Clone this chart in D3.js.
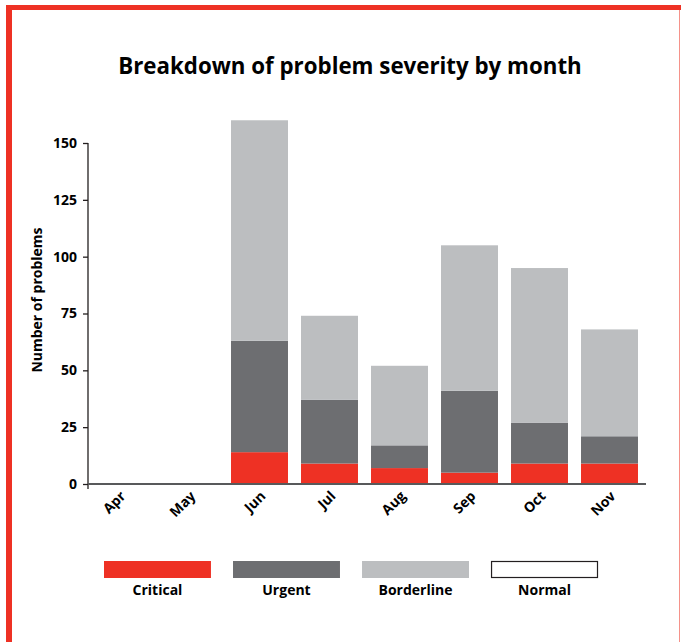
<!DOCTYPE html>
<html>
<head>
<meta charset="utf-8">
<script src="https://cdn.jsdelivr.net/npm/d3@7"></script>
<style>
  html, body { margin: 0; padding: 0; background: #fff; }
  svg { display: block; font-family: "Open Sans", "Lato", sans-serif; }
</style>
</head>
<body>
<svg id="chart" width="681" height="642"></svg>
<script>
// Months shown on the x axis
const months = ["Apr", "May", "Jun", "Jul", "Aug", "Sep", "Oct", "Nov"];
// Number of problems per severity level, per month
const critical   = [0, 0, 14, 9, 7, 5, 9, 9];
const urgent     = [0, 0, 49, 28, 10, 36, 18, 12];
const borderline = [0, 0, 97, 37, 35, 64, 68, 47];
const normal     = [0, 0, 0, 0, 0, 0, 0, 0];
// Severity levels, bottom to top of each stack
const severities = ["Critical", "Urgent", "Borderline", "Normal"];
const severityColors = ["#ee3124", "#6d6e71", "#bcbec0", "#ffffff"];
// Y axis tick values
const yTicks = [0, 25, 50, 75, 100, 125, 150];

const rows = months.map((m, i) => ({
  month: m,
  Critical: critical[i],
  Urgent: urgent[i],
  Borderline: borderline[i],
  Normal: normal[i]
}));

const svg = d3.select("#chart");

// Red frame around the figure
svg.append("rect").attr("x", 6).attr("y", 5).attr("width", 675).attr("height", 5).attr("fill", "#ee3124");
svg.append("rect").attr("x", 6).attr("y", 5).attr("width", 6).attr("height", 637).attr("fill", "#ee3124");
svg.append("rect").attr("x", 679).attr("y", 10).attr("width", 1).attr("height", 632).attr("fill", "#f5928a");

// Title
svg.append("text")
  .attr("x", 350).attr("y", 74)
  .attr("text-anchor", "middle")
  .attr("font-size", 22.3).attr("font-weight", 700)
  .attr("fill", "#000")
  .text("Breakdown of problem severity by month");

const x = d3.scaleBand().domain(months).range([84.5, 644.5]).paddingInner(0.186).paddingOuter(0.093);
const y = d3.scaleLinear().domain([0, 150]).range([484, 143]);

const stack = d3.stack().keys(severities);
const series = stack(rows);
const color = d3.scaleOrdinal().domain(severities).range(severityColors);

// Stacked bars
svg.append("g").selectAll("g")
  .data(series)
  .join("g")
  .attr("fill", d => color(d.key))
  .selectAll("rect")
  .data(d => d.filter(s => s[1] - s[0] > 0))
  .join("rect")
  .attr("x", d => x(d.data.month))
  .attr("width", x.bandwidth())
  .attr("y", d => y(d[1]))
  .attr("height", d => y(d[0]) - y(d[1]));

// Y axis
const yAxis = svg.append("g")
  .attr("transform", "translate(88,0)")
  .call(d3.axisLeft(y).tickValues(yTicks).tickSize(5).tickPadding(6));
yAxis.select(".domain").attr("stroke", "#231f20").attr("stroke-width", 1.3)
  .attr("d", `M0,${y(150)}V${y(0) + 5}`);
yAxis.selectAll(".tick line").attr("stroke", "#231f20").attr("stroke-width", 1.3);
yAxis.selectAll(".tick text")
  .attr("font-size", 14).attr("font-weight", 700).attr("fill", "#000")
  .attr("font-family", "\"Open Sans\", sans-serif");

// X axis
const xAxis = svg.append("g")
  .attr("transform", `translate(0,${y(0)})`)
  .call(d3.axisBottom(x).tickSize(0).tickPadding(0));
xAxis.select(".domain").attr("stroke", "#58595b").attr("stroke-width", 2)
  .attr("d", "M88,0H646");
xAxis.selectAll(".tick text")
  .attr("font-size", 14).attr("font-weight", 700).attr("fill", "#000")
  .attr("font-family", "\"Open Sans\", sans-serif")
  .attr("text-anchor", "end")
  .attr("dy", 0)
  .attr("transform", "translate(7,13) rotate(-45)");

// Y axis title
svg.append("text")
  .attr("transform", "translate(42,300) rotate(-90)")
  .attr("text-anchor", "middle")
  .attr("font-size", 14).attr("font-weight", 700).attr("fill", "#000")
  .text("Number of problems");

// Legend
const legendX = d3.scaleBand().domain(severities).range([104, 598]).paddingInner(0.171).paddingOuter(0);
const legend = svg.append("g").selectAll("g")
  .data(severities)
  .join("g")
  .attr("transform", d => `translate(${legendX(d)},0)`);
legend.append("rect")
  .attr("x", d => d === "Normal" ? 0.5 : 0)
  .attr("y", d => d === "Normal" ? 561.5 : 561)
  .attr("width", d => d === "Normal" ? legendX.bandwidth() - 1 : legendX.bandwidth())
  .attr("height", d => d === "Normal" ? 16 : 17)
  .attr("fill", d => color(d))
  .attr("stroke", d => d === "Normal" ? "#231f20" : "none")
  .attr("stroke-width", 1.2);
legend.append("text")
  .attr("x", legendX.bandwidth() / 2).attr("y", 595)
  .attr("text-anchor", "middle")
  .attr("font-size", 14).attr("font-weight", 700).attr("fill", "#000")
  .text(d => d);
</script>
</body>
</html>
